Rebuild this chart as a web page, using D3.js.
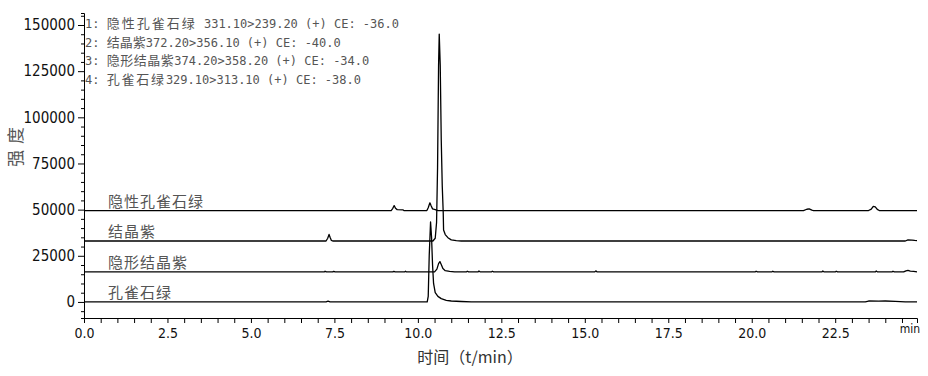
<!DOCTYPE html>
<html>
<head>
<meta charset="utf-8">
<script src="https://cdn.jsdelivr.net/npm/d3@7"></script>
<style>
  html, body { margin: 0; padding: 0; background: #fff; }
  svg { display: block; }
  .tick-label { font-family: "Liberation Sans Narrow", "Arial Narrow", "DejaVu Sans Condensed", sans-serif; }
</style>
</head>
<body>
<svg id="chart" width="928" height="376"></svg>
<script>
// MRM chromatogram, four stacked transitions (offset baselines).
const traceNames = ['隐性孔雀石绿', '结晶紫', '隐形结晶紫', '孔雀石绿'];
const transitions = [
  '331.10>239.20 (+) CE: -36.0',
  '372.20>356.10 (+) CE: -40.0',
  '374.20>358.20 (+) CE: -34.0',
  '329.10>313.10 (+) CE: -38.0'
];
// baseline offset of each trace (intensity units)
const traceOffsets = [49500, 33000, 16250, 0];

// [time (min), intensity above own baseline]
const trace1 = [
  [0, 0], [9.20, 0], [9.25, 1200], [9.29, 2700], [9.33, 1200], [9.38, 500], [9.55, 400], [9.58, 0],
  [10.27, 0], [10.31, 1500], [10.36, 4200], [10.40, 2500], [10.44, 900], [10.52, 500], [10.60, 0],
  [21.55, 0], [21.65, 700], [21.72, 900], [21.80, 200], [21.85, 0],
  [23.50, 0], [23.58, 800], [23.64, 2300], [23.70, 2000], [23.76, 600], [23.82, 0], [24.95, 0]
];
const trace2 = [
  [0, 0], [7.25, 0], [7.30, 1500], [7.34, 3600], [7.37, 2000], [7.41, 300], [7.45, 0],
  [10.45, 0], [10.52, 1500], [10.56, 10000], [10.59, 40000], [10.62, 95000], [10.64, 112100],
  [10.67, 95000], [10.70, 55000], [10.73, 30000], [10.76, 15000], [10.77, 6000], [10.82, 3500],
  [10.90, 1800], [11.00, 600], [11.15, 200], [11.30, 0],
  [24.60, 0], [24.68, 600], [24.80, 500], [24.88, 300], [24.95, 200]
];
const trace3 = [
  [0, 0], [7.20, 0], [7.22, 400], [7.26, 0], [7.45, 0], [7.48, 300], [7.52, 0],
  [9.25, 0], [9.28, 300], [9.32, 0], [9.60, 0], [9.63, 400], [9.66, 0],
  [10.50, 0], [10.57, 1500], [10.62, 4500], [10.66, 5600], [10.70, 4000], [10.75, 1800],
  [10.82, 700], [10.95, 300], [11.10, 0],
  [11.45, 0], [11.48, 400], [11.52, 0], [11.80, 0], [11.83, 500], [11.87, 0],
  [12.20, 0], [12.23, 400], [12.27, 0], [15.30, 0], [15.33, 600], [15.37, 0],
  [20.10, 0], [20.13, 400], [20.17, 0], [20.60, 0], [20.63, 400], [20.67, 0],
  [22.10, 0], [22.13, 500], [22.17, 0], [22.50, 0], [22.53, 400], [22.57, 0],
  [23.70, 0], [23.73, 500], [23.77, 0], [24.20, 0], [24.23, 400], [24.27, 0],
  [24.55, 0], [24.62, 600], [24.68, 800], [24.75, 400], [24.85, 300], [24.95, 0]
];
const trace4 = [
  [0, 0], [7.25, 0], [7.31, 400], [7.37, 0],
  [10.28, 0], [10.31, 3000], [10.34, 25000], [10.38, 43300], [10.41, 35000], [10.44, 20000],
  [10.47, 10000], [10.52, 5000], [10.60, 3000], [10.70, 1800], [10.85, 900], [11.00, 500],
  [11.30, 250], [11.60, 0],
  [23.40, 0], [23.50, 500], [23.80, 400], [24.00, 500], [24.30, 300], [24.60, 0], [24.95, 0]
];
const traces = [trace1, trace2, trace3, trace4];

// axes
const timeDomain = [0, 24.95];
const timeMinorStep = 0.5;
const timeMajorStep = 2.5;
const intensityDomain = [-8700, 156500];
const intensityMinorStep = 5000;
const intensityMajorStep = 25000;

const svg = d3.select('#chart');
const x = d3.scaleLinear().domain(timeDomain).range([84, 917]);
const y = d3.scaleLinear().domain(intensityDomain).range([318, 13]);

const isMult = (v, step) => Math.abs(v / step - Math.round(v / step)) < 1e-6;

// y axis
const yTicks = d3.range(-5000, intensityDomain[1], intensityMinorStep);
const yAxis = svg.append('g')
  .attr('transform', `translate(${x(0)},0)`)
  .call(d3.axisLeft(y)
    .tickValues(yTicks)
    .tickSizeOuter(0)
    .tickSize(3)
    .tickPadding(4)
    .tickFormat((d) => (isMult(d, intensityMajorStep) && d >= 0 && d <= 150000 ? d : '')));
yAxis.selectAll('.tick line')
  .attr('x2', (d) => (isMult(d, intensityMajorStep) ? -6 : -3))
  .attr('stroke', '#000');
yAxis.selectAll('.tick text')
  .attr('class', 'tick-label')
  .attr('x', -9)
  .attr('font-size', 15)
  .attr('fill', '#111');
yAxis.select('.domain').attr('stroke', '#000');

// x axis
const xTicks = d3.range(0, timeDomain[1], timeMinorStep);
const xAxis = svg.append('g')
  .attr('transform', `translate(0,${y(intensityDomain[0])})`)
  .call(d3.axisBottom(x)
    .tickValues(xTicks)
    .tickSizeOuter(0)
    .tickSize(5)
    .tickPadding(5)
    .tickFormat((d) => (isMult(d, timeMajorStep) ? d.toFixed(1) : '')));
xAxis.selectAll('.tick line').attr('stroke', '#000');
xAxis.selectAll('.tick text')
  .attr('class', 'tick-label')
  .attr('font-size', 14)
  .attr('fill', '#111');
xAxis.select('.domain').attr('stroke', '#000');

svg.append('text')
  .attr('class', 'tick-label')
  .attr('x', x(timeDomain[1]) + 3)
  .attr('y', y(intensityDomain[0]) + 15)
  .attr('text-anchor', 'end')
  .attr('font-size', 12)
  .attr('fill', '#111')
  .text('min');

// traces
const line = d3.line()
  .x((d) => x(d[0]))
  .y((d) => y(d[1]));

svg.append('g')
  .attr('fill', 'none')
  .attr('stroke', '#000')
  .attr('stroke-width', 1.3)
  .attr('stroke-linejoin', 'round')
  .selectAll('path')
  .data(traces.map((pts, i) => pts.map(([t, v]) => [t, v + traceOffsets[i]])))
  .join('path')
  .attr('d', line);

// trace labels
svg.append('g')
  .selectAll('text')
  .data(traceNames)
  .join('text')
  .attr('x', 108)
  .attr('y', (d, i) => y(traceOffsets[i]) - 4)
  .attr('font-family', '"Noto Sans CJK SC", sans-serif')
  .attr('font-size', 15)
  .attr('letter-spacing', 1)
  .attr('fill', '#555')
  .text((d) => d);

// transition legend in the top-left corner
const nameSpacing = [2, 0, 0.5, 1.8];
const legend = svg.append('g')
  .attr('font-family', '"DejaVu Sans Mono", monospace')
  .attr('font-size', 12)
  .attr('fill', '#555');
traceNames.forEach((name, i) => {
  const t = legend.append('text')
    .attr('x', 85)
    .attr('y', 28 + i * 18.7)
    .attr('xml:space', 'preserve');
  t.append('tspan').text(`${i + 1}: `);
  t.append('tspan')
    .attr('font-family', '"Noto Sans CJK SC", sans-serif')
    .attr('font-size', 13)
    .attr('letter-spacing', nameSpacing[i])
    .text(name);
  t.append('tspan').text((i === 0 ? ' ' : '') + transitions[i]);
});

// axis titles
svg.append('text')
  .attr('transform', 'translate(22,144) rotate(-90)')
  .attr('text-anchor', 'middle')
  .attr('font-family', '"Noto Sans CJK SC", sans-serif')
  .attr('font-size', 17)
  .attr('letter-spacing', 6)
  .attr('fill', '#555')
  .text('强度');

svg.append('text')
  .attr('x', 470)
  .attr('y', 363)
  .attr('text-anchor', 'middle')
  .attr('font-family', '"Noto Sans CJK SC", sans-serif')
  .attr('font-size', 16)
  .attr('fill', '#333')
  .text('时间（t/min）');
</script>
</body>
</html>
